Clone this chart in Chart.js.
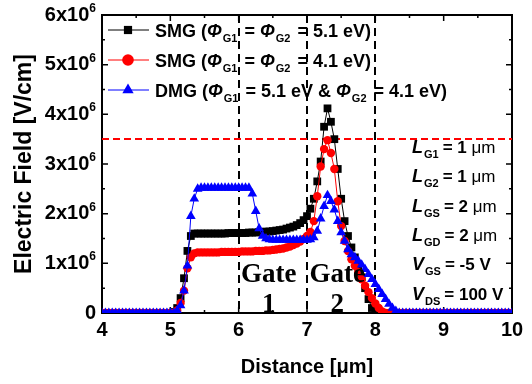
<!DOCTYPE html>
<html lang="en">

<head>
    <meta charset="UTF-8" />
    <title>Electric Field - SMG vs DMG</title>
    <style>
        * {
            padding: 0;
            margin: 0;
            box-sizing: border-box;
        }

        body {
            background: #ffffff;
        }

        #chart {
            display: block;
        }
    </style>
</head>

<body>
    <canvas id="chart" width="532" height="384"></canvas>

    <script src="https://cdn.jsdelivr.net/npm/chart.js@4.4.1/dist/chart.umd.min.js"></script>
    <script>
        // distance along the channel [um]
        const distance = [
            4.00, 4.05, 4.10, 4.15, 4.20, 4.25, 4.30, 4.35, 4.40, 4.45,
            4.50, 4.55, 4.60, 4.65, 4.70, 4.75, 4.80, 4.85, 4.90, 4.95,
            5.00, 5.05, 5.10, 5.15, 5.20, 5.25, 5.30, 5.35, 5.40, 5.45,
            5.50, 5.55, 5.60, 5.65, 5.70, 5.75, 5.80, 5.85, 5.90, 5.95,
            6.00, 6.05, 6.10, 6.15, 6.20, 6.25, 6.30, 6.35, 6.40, 6.45,
            6.50, 6.55, 6.60, 6.65, 6.70, 6.75, 6.80, 6.85, 6.90, 6.95,
            7.00, 7.05, 7.10, 7.15, 7.20, 7.25, 7.30, 7.35, 7.40, 7.45,
            7.50, 7.55, 7.60, 7.65, 7.70, 7.75, 7.80, 7.85, 7.90, 7.95,
            8.00, 8.05, 8.10, 8.15, 8.20, 8.25, 8.30, 8.35, 8.40, 8.45,
            8.50, 8.55, 8.60, 8.65, 8.70, 8.75, 8.80, 8.85, 8.90, 8.95,
            9.00, 9.05, 9.10, 9.15, 9.20, 9.25, 9.30, 9.35, 9.40, 9.45,
            9.50, 9.55, 9.60, 9.65, 9.70, 9.75, 9.80, 9.85, 9.90, 9.95,
            10.00
        ];

        // electric field, in units of 1x10^6 V/cm
        const smg51 = [
            0, 0, 0, 0, 0, 0, 0, 0, 0, 0,
            0, 0, 0, 0, 0, 0, 0, 0, 0, 0,
            0, 0.02, 0.1, 0.3, 0.7, 1.25, 1.55, 1.6, 1.6, 1.6,
            1.6, 1.6, 1.6, 1.6, 1.6, 1.6, 1.6, 1.61, 1.61, 1.61,
            1.61, 1.61, 1.61, 1.62, 1.62, 1.62, 1.63, 1.63, 1.64, 1.64,
            1.65, 1.66, 1.67, 1.68, 1.70, 1.72, 1.74, 1.77, 1.81, 1.87,
            1.95, 2.1, 2.3, 2.65, 3.05, 3.75, 4.12, 3.85, 3.5, 2.9,
            2.3, 1.85, 1.55, 1.32, 1.12, 0.93, 0.72, 0.5, 0.28, 0.1,
            0.02, 0, 0, 0, 0, 0, 0, 0, 0, 0,
            0, 0, 0, 0, 0, 0, 0, 0, 0, 0,
            0, 0, 0, 0, 0, 0, 0, 0, 0, 0,
            0, 0, 0, 0, 0, 0, 0, 0, 0, 0,
            0
        ];
        const smg41 = [
            0, 0, 0, 0, 0, 0, 0, 0, 0, 0,
            0, 0, 0, 0, 0, 0, 0, 0, 0, 0,
            0, 0, 0.05, 0.2, 0.45, 0.9, 1.12, 1.2, 1.22, 1.22,
            1.22, 1.22, 1.22, 1.22, 1.22, 1.23, 1.23, 1.23, 1.23, 1.23,
            1.23, 1.24, 1.24, 1.24, 1.24, 1.25, 1.25, 1.25, 1.26, 1.26,
            1.27, 1.28, 1.29, 1.30, 1.32, 1.34, 1.37, 1.40, 1.44, 1.49,
            1.55, 1.63, 1.85, 2.35, 2.95, 3.3, 3.48, 3.22, 2.9, 2.25,
            1.75, 1.45, 1.25, 1.08, 0.95, 0.82, 0.68, 0.55, 0.42, 0.3,
            0.19, 0.1, 0.03, 0, 0, 0, 0, 0, 0, 0,
            0, 0, 0, 0, 0, 0, 0, 0, 0, 0,
            0, 0, 0, 0, 0, 0, 0, 0, 0, 0,
            0, 0, 0, 0, 0, 0, 0, 0, 0, 0,
            0
        ];
        const dmg = [
            0, 0, 0, 0, 0, 0, 0, 0, 0, 0,
            0, 0, 0, 0, 0, 0, 0, 0, 0, 0,
            0, 0, 0.05, 0.15, 0.45, 0.95, 1.95, 2.3, 2.5, 2.52,
            2.52, 2.52, 2.52, 2.52, 2.52, 2.52, 2.52, 2.52, 2.52, 2.52,
            2.52, 2.52, 2.52, 2.52, 2.4, 2.05, 1.7, 1.55, 1.5, 1.48,
            1.47, 1.47, 1.47, 1.47, 1.47, 1.47, 1.47, 1.47, 1.47, 1.47,
            1.47, 1.48, 1.52, 1.65, 1.9, 2.15, 2.37, 2.25, 2.08, 1.85,
            1.62, 1.45, 1.28, 1.18, 1.12, 1.05, 0.97, 0.88, 0.78, 0.68,
            0.58, 0.48, 0.38, 0.28, 0.18, 0.1, 0.04, 0, 0, 0,
            0, 0, 0, 0, 0, 0, 0, 0, 0, 0,
            0, 0, 0, 0, 0, 0, 0, 0, 0, 0,
            0, 0, 0, 0, 0, 0, 0, 0, 0, 0,
            0
        ];

        const gateEdges = [6, 7, 8];
        const criticalField = 3.5;
        const params = [
            ["L", "G1", "= 1 ", "\u03bcm"],
            ["L", "G2", "= 1 ", "\u03bcm"],
            ["L", "GS", "= 2 ", "\u03bcm"],
            ["L", "GD", "= 2 ", "\u03bcm"],
            ["V", "GS", "= -5 V", ""],
            ["V", "DS", "= 100 V", ""],
        ];

        const SANS = '"Liberation Sans", Arial, sans-serif';
        const toXY = (vals) => distance.map((d, i) => ({ x: d, y: vals[i] }));

        // draw a row of text pieces, some of them subscripts
        function richText(ctx, x, y, parts) {
            ctx.textAlign = "left";
            ctx.textBaseline = "alphabetic";
            for (const p of parts) {
                ctx.font = p.font;
                ctx.fillText(p.t, x, y + (p.dy || 0));
                x += ctx.measureText(p.t).width + (p.gap || 0);
            }
            return x;
        }

        const F = "bold 18px " + SANS;
        const FI = "italic bold 18px " + SANS;
        const FS = "bold 11px " + SANS;
        const phi = (sub) => [{ t: "\u03a6", font: FI, gap: 1 }, { t: sub, font: FS, dy: 5, gap: 2 }];

        const legendRows = [
            { color: "#000000", style: "rect", parts: [{ t: "SMG (", font: F }, ...phi("G1"), { t: " = ", font: F }, ...phi("G2"), { t: " = 5.1 eV)", font: F }] },
            { color: "#ff0000", style: "circle", parts: [{ t: "SMG (", font: F }, ...phi("G1"), { t: " = ", font: F }, ...phi("G2"), { t: " = 4.1 eV)", font: F }] },
            { color: "#0000ff", style: "triangle", parts: [{ t: "DMG (", font: F }, ...phi("G1"), { t: " = 5.1 eV & ", font: F }, ...phi("G2"), { t: " = 4.1 eV)", font: F }] },
        ];

        const decor = {
            id: "decor",
            beforeDatasetsDraw(chart) {
                const { ctx, chartArea: a, scales: { x, y } } = chart;
                ctx.save();

                // frame (markers sit on top of it, as in the original)
                ctx.strokeStyle = "#000";
                ctx.lineWidth = 2;
                ctx.strokeRect(a.left, a.top, a.right - a.left, a.bottom - a.top);

                // inward ticks on all four sides
                ctx.lineWidth = 1.5;
                ctx.beginPath();
                for (const t of x.ticks) {
                    for (const [v, len] of [[t.value, 6], [t.value + 0.5, 3]]) {
                        if (v > x.max) continue;
                        const px = x.getPixelForValue(v);
                        ctx.moveTo(px, a.bottom); ctx.lineTo(px, a.bottom - len);
                        ctx.moveTo(px, a.top); ctx.lineTo(px, a.top + len);
                    }
                }
                for (const t of y.ticks) {
                    for (const [v, len] of [[t.value, 6], [t.value + 0.5, 3]]) {
                        if (v > y.max) continue;
                        const py = y.getPixelForValue(v);
                        ctx.moveTo(a.left, py); ctx.lineTo(a.left + len, py);
                        ctx.moveTo(a.right, py); ctx.lineTo(a.right - len, py);
                    }
                }
                ctx.stroke();

                // gate boundaries
                ctx.lineWidth = 2;
                ctx.setLineDash([8, 5]);
                for (const g of gateEdges) {
                    const px = Math.round(x.getPixelForValue(g));
                    ctx.beginPath();
                    ctx.moveTo(px, a.top);
                    ctx.lineTo(px, a.bottom);
                    ctx.stroke();
                }
                // critical field
                ctx.strokeStyle = "#ff0000";
                ctx.setLineDash([7, 4]);
                const py = Math.round(y.getPixelForValue(criticalField));
                ctx.beginPath();
                ctx.moveTo(a.left, py);
                ctx.lineTo(a.right, py);
                ctx.stroke();
                ctx.restore();
            },
            afterDraw(chart) {
                const { ctx, chartArea: a, scales: { x, y } } = chart;
                ctx.save();
                ctx.fillStyle = "#000";

                // y tick labels with superscript exponent
                const rightEdge = a.left - 6;
                for (const t of y.ticks) {
                    const py = y.getPixelForValue(t.value);
                    if (t.value === 0) {
                        ctx.font = "bold 20px " + SANS;
                        ctx.textAlign = "right";
                        ctx.textBaseline = "middle";
                        ctx.fillText("0", rightEdge, py);
                        continue;
                    }
                    ctx.font = "bold 12px " + SANS;
                    const w = ctx.measureText("6").width;
                    ctx.textAlign = "left";
                    ctx.textBaseline = "alphabetic";
                    ctx.fillText("6", rightEdge - w, py - 3);
                    ctx.font = "bold 20px " + SANS;
                    ctx.textAlign = "right";
                    ctx.textBaseline = "middle";
                    ctx.fillText(t.value + "x10", rightEdge - w, py);
                }

                // legend
                legendRows.forEach((row, i) => {
                    const cy = a.top + 15 + i * 30;
                    ctx.strokeStyle = row.color;
                    ctx.fillStyle = row.color;
                    ctx.lineWidth = 1;
                    ctx.beginPath();
                    ctx.moveTo(a.left + 6, cy);
                    ctx.lineTo(a.left + 47, cy);
                    ctx.stroke();
                    Chart.helpers.drawPoint(ctx, { pointStyle: row.style, radius: row.style === "triangle" ? 6.5 : 5.8, borderWidth: 0 }, a.left + 26, cy);
                    ctx.fillStyle = "#000";
                    richText(ctx, a.left + 53, cy + 7, row.parts);
                });

                // device parameters
                ctx.fillStyle = "#000";
                params.forEach((p, i) => {
                    const base = 153 + i * 29.3;
                    let px = richText(ctx, 412, base, [
                        { t: p[0], font: "italic bold 18px " + SANS, gap: 1 },
                        { t: p[1], font: "bold 11px " + SANS, dy: 5, gap: 4 },
                        { t: p[2], font: "bold 17px " + SANS },
                    ]);
                    if (p[3]) richText(ctx, px, base, [{ t: p[3], font: "17px " + SANS }]);
                });

                // gate labels
                ctx.font = 'bold 27px "Liberation Serif", "Times New Roman", serif';
                ctx.textAlign = "center";
                ctx.textBaseline = "alphabetic";
                [["1", 6.5], ["2", 7.5]].forEach(([n, c]) => {
                    const cx = x.getPixelForValue(c) - 4;
                    ctx.fillText("Gate", cx, 282);
                    ctx.fillText(n, cx, 312);
                });

                ctx.restore();
            },
        };

        const chart = new Chart(document.getElementById("chart"), {
            type: "line",
            plugins: [decor],
            data: {
                datasets: [
                    {
                        label: "SMG 5.1",
                        data: toXY(smg51),
                        borderColor: "#000000",
                        backgroundColor: "#000000",
                        borderWidth: 1,
                        pointStyle: "rect",
                        pointRadius: 5.5,
                        pointBorderWidth: 0,
                        order: 2,
                    },
                    {
                        label: "SMG 4.1",
                        data: toXY(smg41),
                        borderColor: "#ff0000",
                        backgroundColor: "#ff0000",
                        borderWidth: 1,
                        pointStyle: "circle",
                        pointRadius: 4.2,
                        pointBorderWidth: 0,
                        order: 1,
                    },
                    {
                        label: "DMG",
                        data: toXY(dmg),
                        borderColor: "#0000ff",
                        backgroundColor: "#0000ff",
                        borderWidth: 1,
                        pointStyle: "triangle",
                        pointRadius: 5.6,
                        pointBorderWidth: 0,
                        order: 0,
                    },
                ],
            },
            options: {
                responsive: false,
                animation: false,
                events: [],
                layout: { padding: { top: 15, right: 20, left: 0, bottom: 0 } },
                plugins: {
                    legend: { display: false },
                    tooltip: { enabled: false },
                },
                scales: {
                    x: {
                        type: "linear",
                        min: 4,
                        max: 10,
                        afterFit: (s) => { s.height = 71; },
                        grid: { display: false, drawTicks: false },
                        border: { display: false },
                        ticks: {
                            stepSize: 1,
                            padding: 5,
                            color: "#000",
                            font: { family: SANS, size: 20, weight: "bold" },
                        },
                        title: {
                            display: true,
                            text: "Distance [\u03bcm]",
                            color: "#000",
                            padding: { top: 0, bottom: 5 },
                            font: { family: SANS, size: 20, weight: "bold" },
                        },
                    },
                    y: {
                        type: "linear",
                        min: 0,
                        max: 6,
                        afterFit: (s) => { s.width = 102; },
                        grid: { display: false, drawTicks: false },
                        border: { display: false },
                        ticks: { stepSize: 1, display: false },
                        title: {
                            display: true,
                            text: "Electric Field [V/cm]",
                            color: "#000",
                            padding: { top: 11, bottom: 0 },
                            font: { family: SANS, size: 23, weight: "bold" },
                        },
                    },
                },
            },
        });
    </script>
</body>

</html>
